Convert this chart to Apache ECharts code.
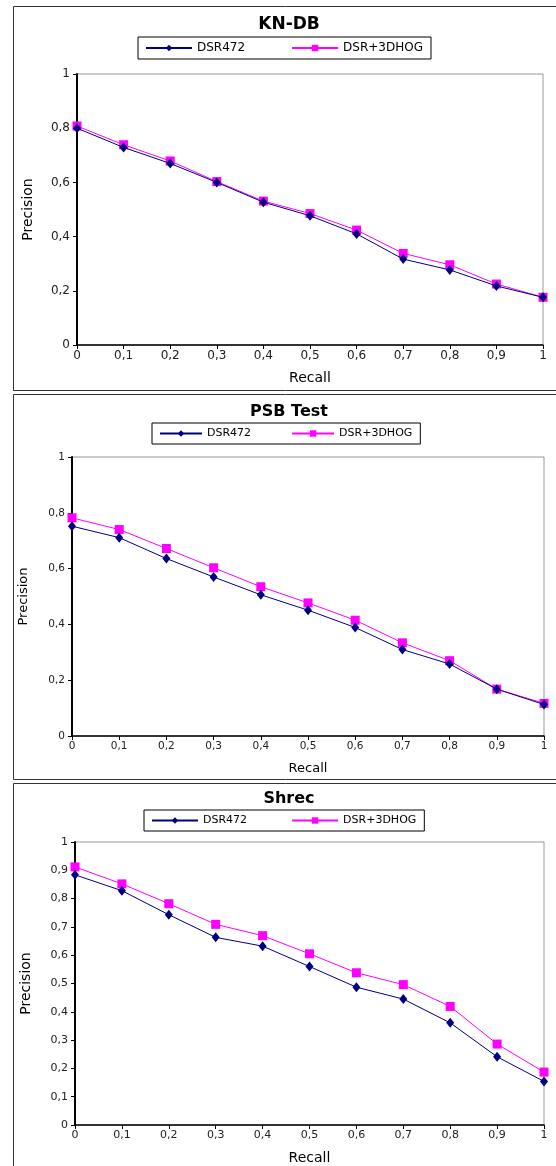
<!DOCTYPE html>
<html>
<head>
<meta charset="utf-8">
<script src="https://cdn.jsdelivr.net/npm/echarts@6/dist/echarts.min.js"></script>
<style>
html,body{margin:0;padding:0;background:#fff;}
#c{width:556px;height:1166px;}
</style>
</head>
<body>
<div id="c"></div>
<script>
const recall = [0, 0.1, 0.2, 0.3, 0.4, 0.5, 0.6, 0.7, 0.8, 0.9, 1];
const seriesNames = ['DSR472', 'DSR+3DHOG'];
const panelTitles = ['KN-DB', 'PSB Test', 'Shrec'];
const knDsr472   = [0.800, 0.729, 0.670, 0.600, 0.527, 0.477, 0.410, 0.317, 0.277, 0.218, 0.176];
const knDsr3dhog = [0.808, 0.739, 0.679, 0.603, 0.531, 0.485, 0.424, 0.338, 0.296, 0.225, 0.176];
const psbDsr472   = [0.752, 0.711, 0.636, 0.570, 0.506, 0.451, 0.389, 0.310, 0.258, 0.168, 0.113];
const psbDsr3dhog = [0.782, 0.740, 0.672, 0.603, 0.535, 0.477, 0.415, 0.334, 0.270, 0.168, 0.117];
const shrecDsr472   = [0.884, 0.828, 0.743, 0.663, 0.632, 0.560, 0.487, 0.445, 0.361, 0.241, 0.154];
const shrecDsr3dhog = [0.912, 0.852, 0.782, 0.709, 0.669, 0.605, 0.538, 0.496, 0.419, 0.286, 0.187];

const FONT = 'DejaVu Sans';
const fmt = v => (+v.toFixed(1)).toString().replace('.', ',');

const panels = [
  {title: panelTitles[0], a: knDsr472, b: knDsr3dhog, yInt: 0.2,
   grid: {left: 77, right: 13, top: 74, height: 271},
   titleTop: 11, titleSize: 17, legend: {left: 138, top: 37, font: 12, gap: 46, iw: 46},
   tick: 12, name: 14, border: [13.5, 6.5, 600, 384]},
  {title: panelTitles[1], a: psbDsr472, b: psbDsr3dhog, yInt: 0.2,
   grid: {left: 72, right: 12, top: 457, height: 279},
   titleTop: 399, titleSize: 16, legend: {left: 152, top: 423, font: 11, gap: 40, iw: 42},
   tick: 10.5, name: 13, border: [13.5, 394.5, 600, 385]},
  {title: panelTitles[2], a: shrecDsr472, b: shrecDsr3dhog, yInt: 0.1,
   grid: {left: 75, right: 12, top: 842, height: 285},
   titleTop: 786, titleSize: 16, legend: {left: 144, top: 810, font: 11, gap: 44, iw: 46},
   tick: 11, name: 14, border: [13.5, 783.5, 600, 420]}
];

const option = {
  backgroundColor: '#fff',
  animation: false,
  title: [], legend: [], grid: [], xAxis: [], yAxis: [], series: [],
  graphic: []
};

panels.forEach((p, i) => {
  option.graphic.push({type: 'rect', silent: true, z: -1,
    shape: {x: p.border[0], y: p.border[1], width: p.border[2], height: p.border[3]},
    style: {fill: 'none', stroke: '#333', lineWidth: 1}});
  option.title.push({text: p.title, left: 284, top: p.titleTop, textAlign: 'center',
    textStyle: {fontFamily: FONT, fontWeight: 'bold', fontSize: p.titleSize, color: '#000'}});
  option.legend.push({
    left: p.legend.left, top: p.legend.top, orient: 'horizontal',
    data: seriesNames,
    itemWidth: p.legend.iw, itemHeight: 8, itemGap: p.legend.gap,
    padding: [5, 8, 5, 7],
    borderColor: '#000', borderWidth: 1, borderRadius: 0,
    textStyle: {fontFamily: FONT, fontSize: p.legend.font, color: '#000'},
    selectedMode: false
  });
  option.grid.push(Object.assign({show: true, borderColor: '#999', borderWidth: 1, backgroundColor: 'transparent'}, p.grid));
  option.xAxis.push({
    type: 'value', gridIndex: i, min: 0, max: 1, interval: 0.1,
    name: 'Recall', nameLocation: 'middle', nameGap: 26,
    nameTextStyle: {fontFamily: FONT, fontSize: p.name, color: '#000'},
    axisLine: {show: true, lineStyle: {color: '#000', width: 1.5}},
    axisTick: {show: true, inside: false, length: 4, lineStyle: {color: '#000'}},
    axisLabel: {fontFamily: FONT, fontSize: p.tick, color: '#222', margin: 5, formatter: fmt},
    splitLine: {show: false}
  });
  option.yAxis.push({
    type: 'value', gridIndex: i, min: 0, max: 1, interval: p.yInt,
    name: 'Precision', nameLocation: 'middle', nameGap: 42, nameRotate: 90,
    nameTextStyle: {fontFamily: FONT, fontSize: p.name, color: '#000'},
    axisLine: {show: true, lineStyle: {color: '#000', width: 2}},
    axisTick: {show: true, inside: false, length: 4, lineStyle: {color: '#000'}},
    axisLabel: {fontFamily: FONT, fontSize: p.tick, color: '#222', margin: 7, formatter: fmt},
    splitLine: {show: false}
  });
  option.series.push({
    name: seriesNames[0], type: 'line', xAxisIndex: i, yAxisIndex: i,
    data: recall.map((r, k) => [r, p.a[k]]),
    symbol: 'diamond', symbolSize: [8, 10], showSymbol: true,
    lineStyle: {color: '#000080', width: 1},
    itemStyle: {color: '#000080'}, z: 3
  });
  option.series.push({
    name: seriesNames[1], type: 'line', xAxisIndex: i, yAxisIndex: i,
    data: recall.map((r, k) => [r, p.b[k]]),
    symbol: 'rect', symbolSize: 9, showSymbol: true,
    lineStyle: {color: '#ff00ff', width: 1},
    itemStyle: {color: '#ff00ff'}, z: 2
  });
});

const chart = echarts.init(document.getElementById('c'), null, {renderer: 'canvas'});
chart.setOption(option);
</script>
</body>
</html>
